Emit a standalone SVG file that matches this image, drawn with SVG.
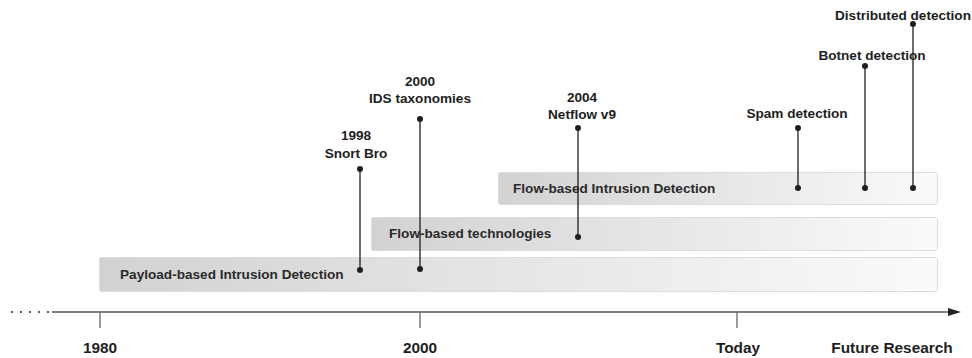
<svg xmlns="http://www.w3.org/2000/svg" width="972" height="358" viewBox="0 0 972 358">
  <defs>
    <linearGradient id="barFill" x1="0" y1="0" x2="1" y2="0">
      <stop offset="0" stop-color="#d2d2d2"/>
      <stop offset="1" stop-color="#fafafa"/>
    </linearGradient>
    <marker id="arrow" viewBox="0 0 13 8" refX="0" refY="4" markerWidth="13" markerHeight="8" markerUnits="userSpaceOnUse" orient="auto">
      <path d="M0,0 L13,4 L0,8 Z" fill="#222"/>
    </marker>
  </defs>
  <style>
    .bar { fill: url(#barFill); stroke: #dcdcdc; stroke-width: 1; }
    .bar-label { font-family: "Liberation Sans", Arial, sans-serif; font-weight: bold; font-size: 13.6px; fill: #2a2a2a; }
    .event { font-family: "Liberation Sans", Arial, sans-serif; font-weight: bold; font-size: 13.6px; fill: #1e1e1e; text-anchor: middle; }
    .axis-label { font-family: "Liberation Sans", Arial, sans-serif; font-weight: bold; font-size: 15.4px; fill: #1e1e1e; text-anchor: middle; }
    .stem { stroke: #1e1e1e; stroke-width: 1.3; fill: none; }
    .pin { fill: #1e1e1e; }
    .axis { stroke: #555; stroke-width: 1.6; fill: none; }
    .tick { stroke: #666; stroke-width: 1.3; }
    .lead { fill: #333; }
  </style>

  <!-- time axis -->
  <g id="axis">
    <circle class="lead" cx="12" cy="312" r="1.1"/>
    <circle class="lead" cx="21" cy="312" r="1.1"/>
    <circle class="lead" cx="30" cy="312" r="1.1"/>
    <circle class="lead" cx="39" cy="312" r="1.1"/>
    <circle class="lead" cx="48" cy="312" r="1.1"/>
    <line class="axis" x1="52" y1="312" x2="948" y2="312" marker-end="url(#arrow)"/>
    <line class="tick" x1="100" y1="312" x2="100" y2="328"/>
    <line class="tick" x1="420" y1="312" x2="420" y2="328"/>
    <line class="tick" x1="737" y1="312" x2="737" y2="328"/>
    <text class="axis-label" x="100" y="353">1980</text>
    <text class="axis-label" x="420" y="353">2000</text>
    <text class="axis-label" x="738" y="353">Today</text>
    <text class="axis-label" x="892" y="353">Future Research</text>
  </g>

  <!-- research eras -->
  <g id="payload-ids">
    <rect class="bar" x="99.5" y="257.5" width="838" height="34" rx="2"/>
    <text class="bar-label" x="120" y="279">Payload-based Intrusion Detection</text>
  </g>
  <g id="flow-tech">
    <rect class="bar" x="371.5" y="217.5" width="566" height="33" rx="2"/>
    <text class="bar-label" x="389" y="238">Flow-based technologies</text>
  </g>
  <g id="flow-ids">
    <rect class="bar" x="498.5" y="172.5" width="439" height="32" rx="2"/>
    <text class="bar-label" x="513" y="193">Flow-based Intrusion Detection</text>
  </g>

  <!-- milestone pins -->
  <g id="connectors">
    <line class="stem" x1="360" y1="169" x2="360" y2="270"/>
    <line class="stem" x1="420" y1="119" x2="420" y2="269"/>
    <line class="stem" x1="578" y1="128" x2="578" y2="237"/>
    <line class="stem" x1="798" y1="128" x2="798" y2="188"/>
    <line class="stem" x1="865" y1="66" x2="865" y2="188"/>
    <line class="stem" x1="913" y1="24" x2="913" y2="188"/>
  </g>

  <g id="snort-bro">
    <circle class="pin" cx="360" cy="169" r="3"/>
    <circle class="pin" cx="360" cy="270" r="3"/>
    <text class="event" x="356" y="140">1998</text>
    <text class="event" x="356" y="158">Snort Bro</text>
  </g>
  <g id="ids-taxonomies">
    <circle class="pin" cx="420" cy="119" r="3"/>
    <circle class="pin" cx="420" cy="269" r="3"/>
    <text class="event" x="420" y="86">2000</text>
    <text class="event" x="420" y="103">IDS taxonomies</text>
  </g>
  <g id="netflow-v9">
    <circle class="pin" cx="578" cy="128" r="3"/>
    <circle class="pin" cx="578" cy="237" r="3"/>
    <text class="event" x="582" y="102">2004</text>
    <text class="event" x="582" y="119">Netflow v9</text>
  </g>
  <g id="spam-detection">
    <circle class="pin" cx="798" cy="128" r="3"/>
    <circle class="pin" cx="798" cy="188" r="3"/>
    <text class="event" x="797" y="118">Spam detection</text>
  </g>
  <g id="botnet-detection">
    <circle class="pin" cx="865" cy="66" r="3"/>
    <circle class="pin" cx="865" cy="188" r="3"/>
    <text class="event" x="872" y="60">Botnet detection</text>
  </g>
  <g id="distributed-detection">
    <circle class="pin" cx="913" cy="24" r="3"/>
    <circle class="pin" cx="913" cy="188" r="3"/>
    <text class="event" x="903" y="20">Distributed detection</text>
  </g>
</svg>
